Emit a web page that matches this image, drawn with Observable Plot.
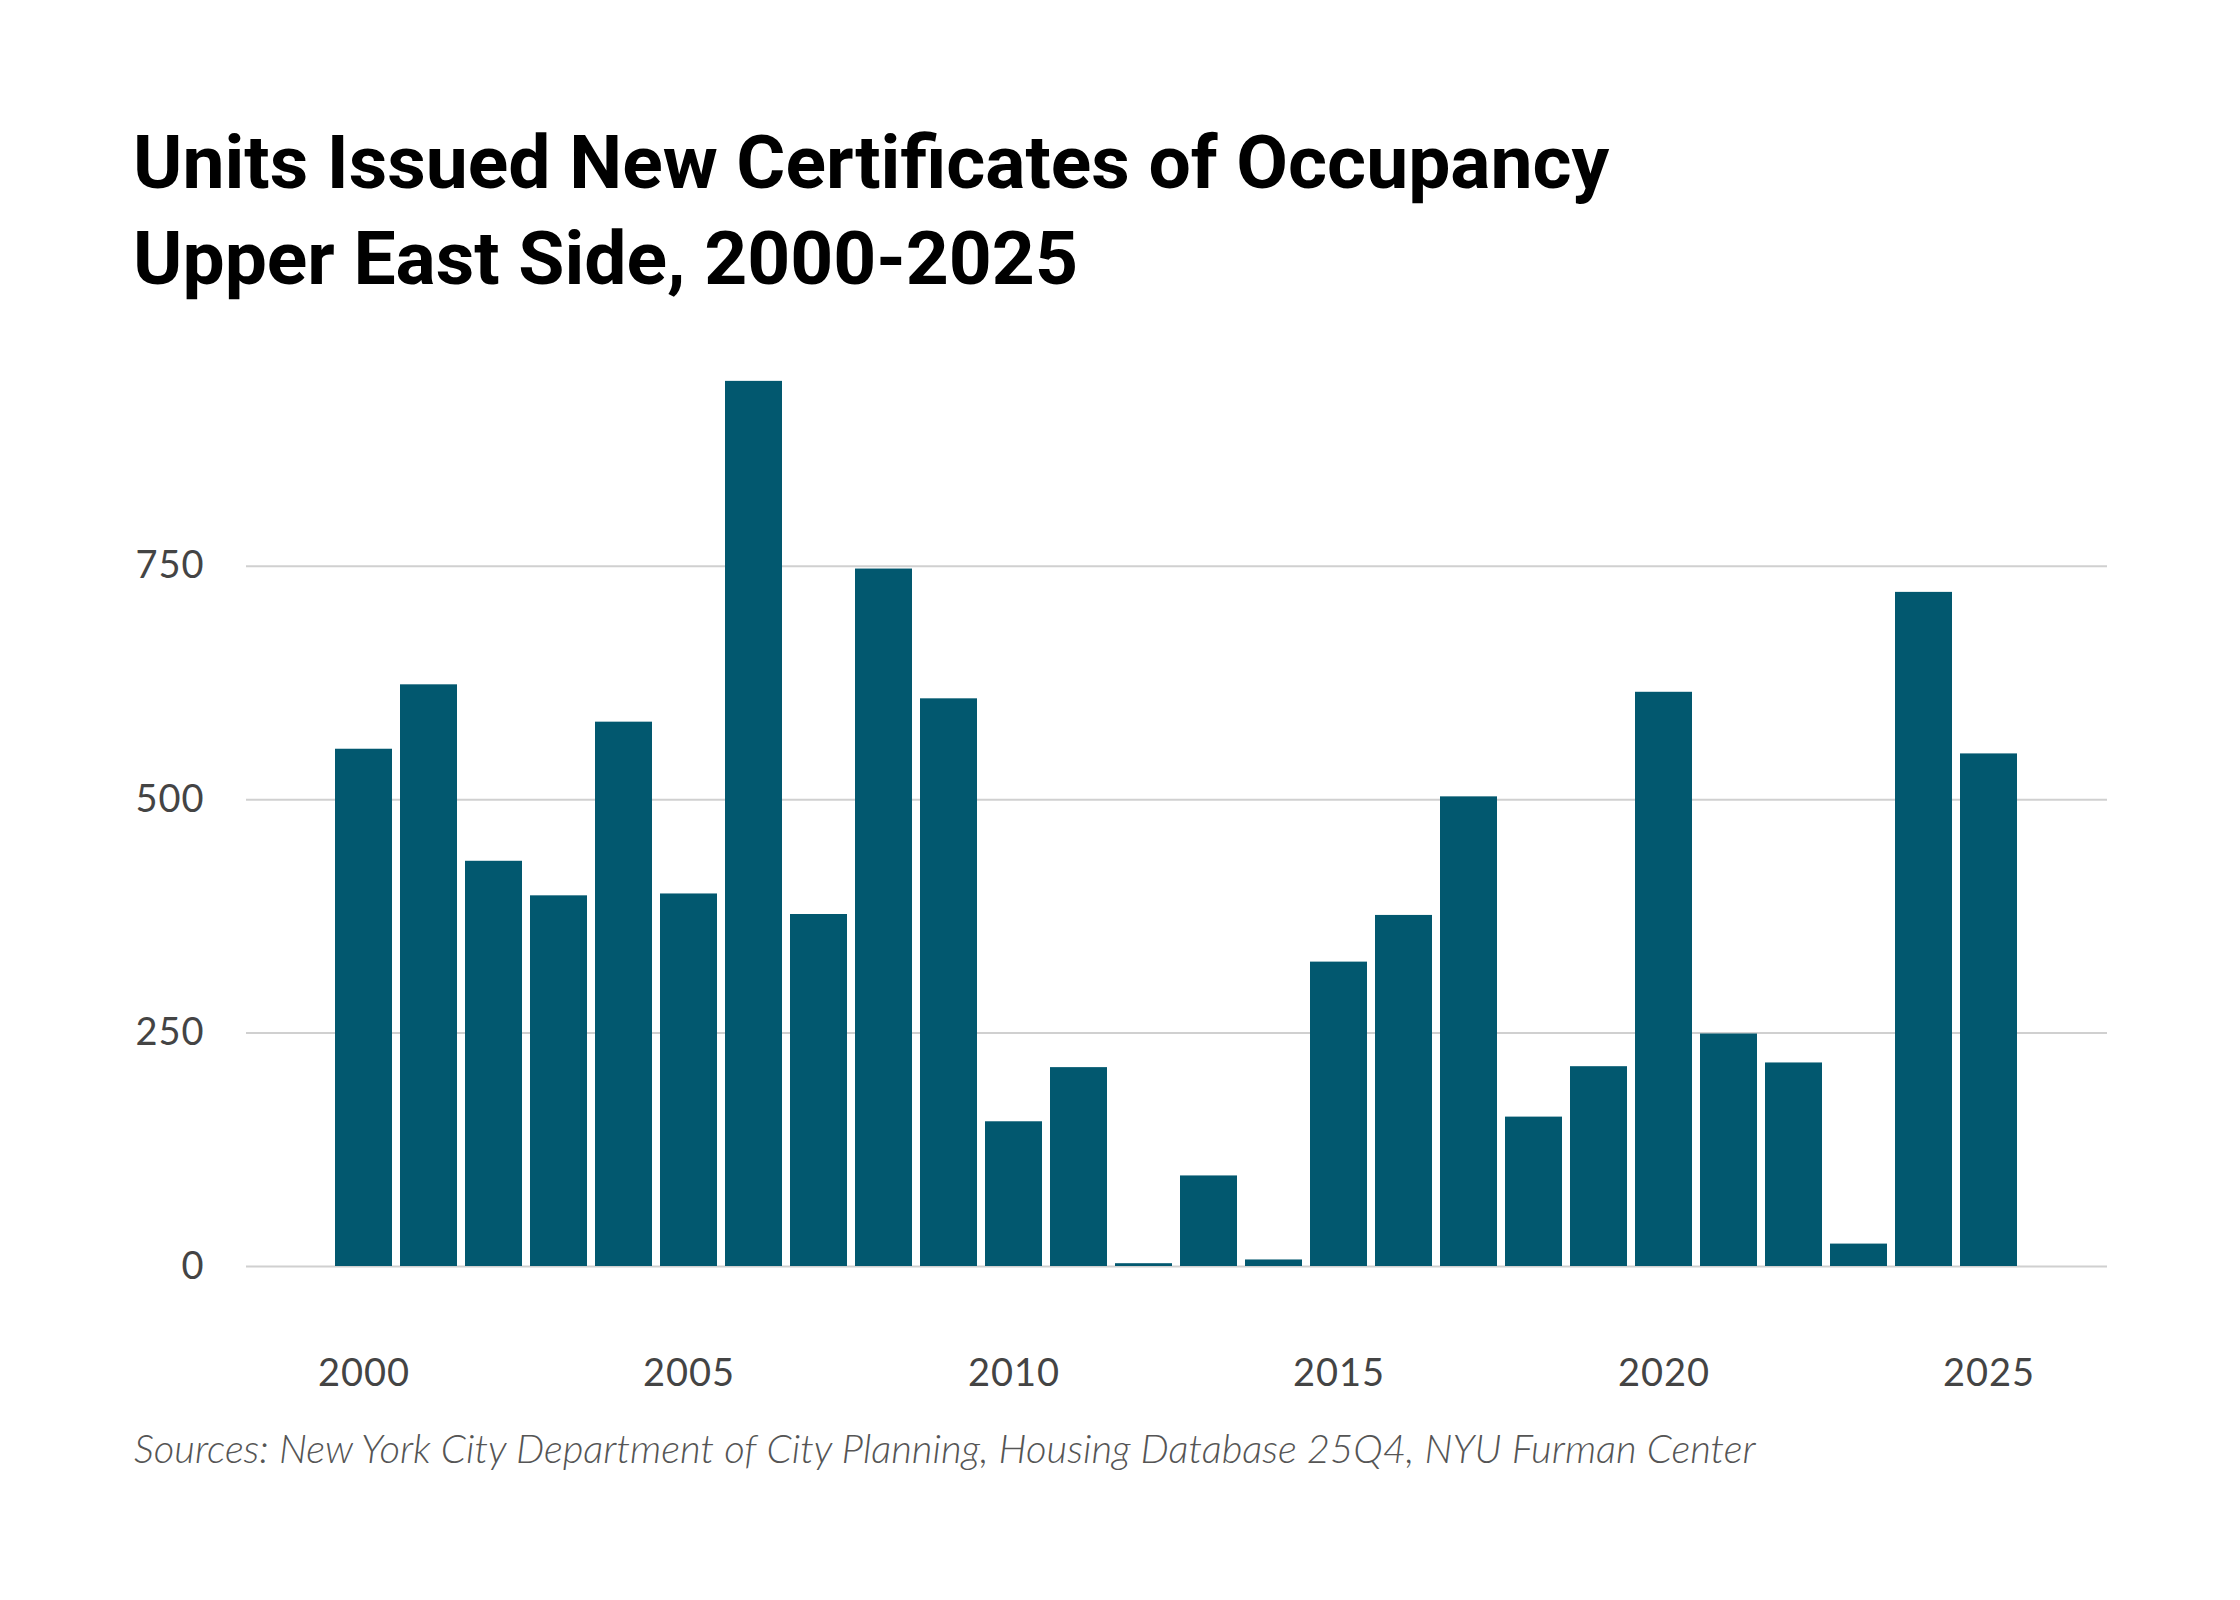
<!DOCTYPE html>
<html>
<head>
<meta charset="utf-8">
<script src="https://cdn.jsdelivr.net/npm/d3@7"></script>
<script src="https://cdn.jsdelivr.net/npm/@observablehq/plot@0.6"></script>
<style>
  html, body { margin: 0; padding: 0; background: #fff; }
  #page { position: relative; width: 2240px; height: 1600px; overflow: hidden; }
  #title { position: absolute; left: 133px; top: 114px; margin: 0;
    font-family: Roboto, sans-serif; font-weight: 700; font-size: 75px; line-height: 96px;
    color: #000; letter-spacing: 0; }
  #chart { position: absolute; left: 0; top: 340px; }
  #caption { position: absolute; left: 134px; top: 1424px; margin: 0;
    font-family: Lato, sans-serif; font-style: italic; font-weight: 300; font-size: 40px; color: #555; }
  #chart svg text { letter-spacing: 1px; }
</style>
</head>
<body>
<div id="page">
  <h1 id="title">Units Issued New Certificates of Occupancy<br>Upper East Side, 2000-2025</h1>
  <div id="chart"></div>
  <p id="caption">Sources: New York City Department of City Planning, Housing Database 25Q4, NYU Furman Center</p>
</div>
<script>
const years = [2000,2001,2002,2003,2004,2005,2006,2007,2008,2009,2010,2011,2012,
               2013,2014,2015,2016,2017,2018,2019,2020,2021,2022,2023,2024,2025];
const units = [554,623,434,397,583,399,948,377,747,608,155,213,3,
               97,7,326,376,503,160,214,615,249,218,24,722,549];
const yTicks = [0,250,500,750];
const xTicks = [2000,2005,2010,2015,2020,2025];

const data = years.map((year, i) => ({year, value: units[i]}));

const chart = Plot.plot({
  width: 2240,
  height: 1080,
  marginLeft: 246,
  marginRight: 133,
  marginTop: 39,
  marginBottom: 154,
  style: {fontFamily: "Lato, sans-serif", fontSize: "38px", color: "#444", background: "#fff"},
  x: {type: "band", domain: years, paddingInner: 0.12, paddingOuter: 1.27, label: null},
  y: {domain: [0, 950], label: null},
  marks: [
    Plot.ruleY(yTicks, {stroke: "#d0d0d0", strokeWidth: 2}),
    Plot.barY(data, {x: "year", y: "value", fill: "#02586f"}),
    Plot.axisY({ticks: yTicks, tickSize: 0, tickPadding: 42, label: null, fill: "#444"}),
    Plot.axisX({ticks: xTicks, tickSize: 0, tickPadding: 93, tickFormat: d => String(d), label: null, fill: "#444"})
  ]
});
document.getElementById("chart").appendChild(chart);
</script>
</body>
</html>
